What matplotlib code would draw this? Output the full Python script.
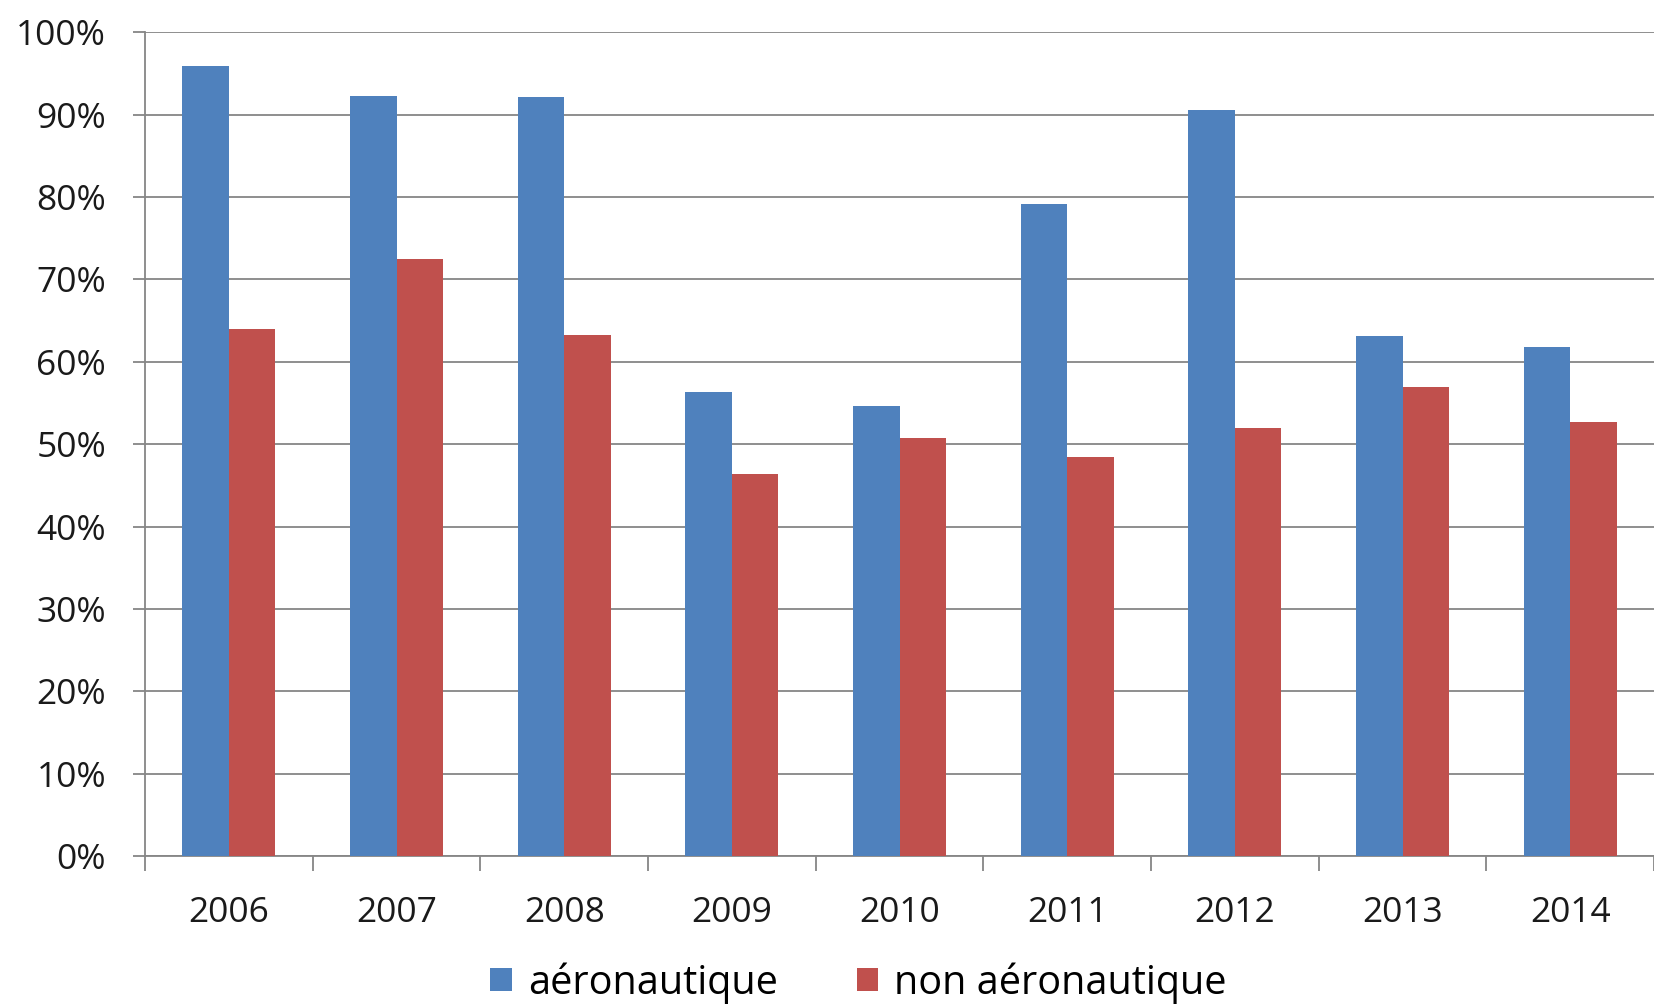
import matplotlib
matplotlib.use("Agg")
import matplotlib.pyplot as plt
import numpy as np
from matplotlib.ticker import FuncFormatter, MultipleLocator

years = ["2006", "2007", "2008", "2009", "2010", "2011", "2012", "2013", "2014"]
aeronautique = [95.9, 92.3, 92.1, 56.3, 54.6, 79.1, 90.5, 63.1, 61.8]
non_aeronautique = [64.0, 72.5, 63.3, 46.4, 50.8, 48.4, 51.9, 56.9, 52.7]
series_labels = ["aéronautique", "non aéronautique"]

plt.rcParams["font.family"] = ["Open Sans", "DejaVu Sans"]

fig = plt.figure(figsize=(16.54, 10.06), dpi=100)
ax = fig.add_axes([0.0877, 0.149, 1 - 0.0877, 0.968 - 0.149])

x = np.arange(len(years))
w = 0.277
blue = "#4F81BD"
red = "#C0504D"
ax.bar(x - w / 2, aeronautique, width=w, color=blue, label=series_labels[0], zorder=3)
ax.bar(x + w / 2, non_aeronautique, width=w, color=red, label=series_labels[1], zorder=3)

grid_c = "#868686"
ax.set_ylim(0, 100)
ax.set_xlim(-0.5, 8.39)
ax.yaxis.set_major_locator(MultipleLocator(10))
ax.yaxis.set_major_formatter(FuncFormatter(lambda v, p: f"{int(round(v))}%"))
ax.grid(axis="y", color=grid_c, linewidth=1.3, zorder=0)
ax.set_axisbelow(True)

ax.set_xticks(x)
ax.set_xticklabels(years)
ax.set_xticks(np.arange(-0.5, len(years), 1.0), minor=True)
ax.tick_params(axis="x", which="major", length=0, pad=29, labelsize=25.5, colors="#1a1a1a")
ax.tick_params(axis="x", which="minor", length=11, width=1.3, color=grid_c, direction="out")
ax.tick_params(axis="y", length=9, width=1.3, color=grid_c, pad=19, labelsize=25.5,
               labelcolor="#1a1a1a")

for s in ("top", "right"):
    ax.spines[s].set_visible(False)
for s in ("left", "bottom"):
    ax.spines[s].set_color(grid_c)
    ax.spines[s].set_linewidth(1.3)

fig.legend(loc="lower center", bbox_to_anchor=(0.519, -0.033), ncol=2, frameon=False,
           fontsize=28.5, handlelength=0.55, handleheight=0.55, handletextpad=0.4,
           columnspacing=2.0)

fig.savefig("out.png", dpi=100, facecolor="white")
